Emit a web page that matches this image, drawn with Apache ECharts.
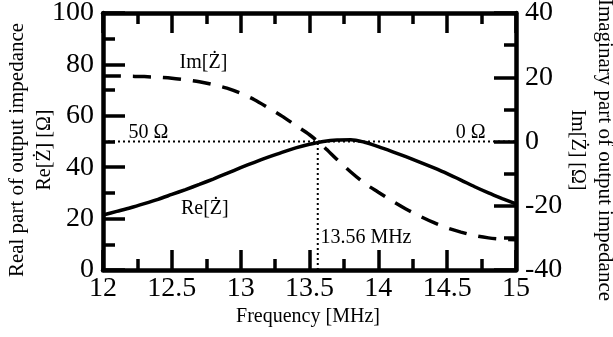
<!DOCTYPE html>
<html><head><meta charset="utf-8">
<script src="https://cdn.jsdelivr.net/npm/echarts@6/dist/echarts.min.js"></script>
<style>html,body{margin:0;padding:0;background:#fff}#c{width:613px;height:337px}</style>
</head><body><div id="c"></div>
<script>
// Data
const freq = [12, 12.1, 12.2, 12.3, 12.4, 12.5, 12.6, 12.7, 12.8, 12.9, 13, 13.1, 13.2, 13.3, 13.4, 13.5,
  13.6, 13.7, 13.8, 13.9, 14, 14.1, 14.2, 14.3, 14.4, 14.5, 14.6, 14.7, 14.8, 14.9, 15];
const reVals = [21.4, 22.8, 24.2, 25.8, 27.5, 29.4, 31.3, 33.3, 35.4, 37.6, 39.8, 41.9, 43.9, 45.8, 47.5, 48.9,
  50.0, 50.6, 50.7, 49.7, 48.0, 46.1, 44.1, 42.0, 39.8, 37.5, 35.0, 32.4, 30.0, 27.8, 25.7];
const imVals = [20.4, 20.4, 20.3, 20.2, 20.0, 19.7, 19.2, 18.6, 17.7, 16.6, 15.0, 13.0, 10.5, 7.9, 5.0, 2.1,
  -1.5, -5.6, -9.5, -13.0, -15.8, -18.5, -21.0, -23.2, -25.2, -26.9, -28.2, -29.3, -30.0, -30.4, -30.6];
const refLevel = 50;      // 50 Ω (left) == 0 Ω (right)
const refFreq = 13.56;    // MHz
const xRange = [12, 15];
const annoX = [12.73, 12.74, 12.33, 14.67, 13.91];
const annoY = [80.5, 23.7, 53.3, 53.3, 12.5];
const annoText = ['Im[Ż]', 'Re[Ż]', '50 Ω', '0 Ω', '13.56 MHz'];

const FONT = '"Liberation Serif","Times New Roman",serif';
const chart = echarts.init(document.getElementById('c'));
const axisLine = {show: true, onZero: false, lineStyle: {color: '#000', width: 4.5}};
const tick = (len) => ({show: true, inside: true, length: len, lineStyle: {color: '#000', width: 3.5}});
const minor = (len) => ({show: true, splitNumber: 2, length: len, lineStyle: {color: '#000', width: 3.5}});

chart.setOption({
  animation: false,
  backgroundColor: '#fff',
  grid: {left: 103, right: 97, top: 13, bottom: 67, outerBoundsMode: 'none'},
  xAxis: [{
    type: 'value', min: xRange[0], max: xRange[1], interval: 0.5, position: 'bottom',
    axisLine, axisTick: tick(20), minorTick: minor(11), splitLine: {show: false}, minorSplitLine: {show: false},
    axisLabel: {color: '#000', fontFamily: FONT, fontSize: 28, margin: 5}
  }, {
    type: 'value', min: xRange[0], max: xRange[1], interval: 0.5, position: 'top',
    axisLine, axisTick: tick(20), minorTick: minor(11), splitLine: {show: false},
    axisLabel: {show: false}
  }],
  yAxis: [{
    type: 'value', min: 0, max: 100, interval: 20, position: 'left',
    axisLine, axisTick: tick(22), minorTick: minor(12), splitLine: {show: false},
    axisLabel: {color: '#000', fontFamily: FONT, fontSize: 28, margin: 9}
  }, {
    type: 'value', min: -40, max: 40, interval: 20, position: 'right',
    axisLine, axisTick: tick(22), minorTick: minor(12), splitLine: {show: false},
    axisLabel: {color: '#000', fontFamily: FONT, fontSize: 28, margin: 9}
  }],
  series: [{
    type: 'line', xAxisIndex: 0, yAxisIndex: 0, silent: true, symbol: 'none',
    data: [[xRange[0], refLevel], [xRange[1], refLevel]],
    lineStyle: {color: '#000', width: 2, type: [2, 3]}, z: 1
  }, {
    type: 'line', xAxisIndex: 0, yAxisIndex: 0, silent: true, symbol: 'none',
    data: [[refFreq, 0], [refFreq, refLevel]],
    lineStyle: {color: '#000', width: 2, type: [2, 3]}, z: 1
  }, {
    type: 'line', xAxisIndex: 0, yAxisIndex: 0, symbol: 'none', smooth: 0.3,
    data: freq.map((f, i) => [f, reVals[i]]),
    lineStyle: {color: '#000', width: 3.5}, z: 3
  }, {
    type: 'line', xAxisIndex: 0, yAxisIndex: 1, symbol: 'none', smooth: 0.3,
    data: freq.map((f, i) => [f, imVals[i]]),
    lineStyle: {color: '#000', width: 3.5, type: [18, 12]}, z: 3
  }]
});

const txt = (x, y, s, size, rot) => ({
  type: 'text', x, y, rotation: rot || 0, z: 10,
  style: {text: s, fill: '#000', font: size + 'px ' + FONT, align: 'center', verticalAlign: 'middle'}
});
const g = annoX.map((x, i) => {
  const p = chart.convertToPixel({xAxisIndex: 0, yAxisIndex: 0}, [x, annoY[i]]);
  return txt(p[0], p[1], annoText[i], 20);
});
g.push(txt(308, 317, 'Frequency [MHz]', 20));
g.push(txt(17, 150, 'Real part of output impedance', 21, Math.PI / 2));
g.push(txt(45, 150, 'Re[Ż] [Ω]', 20, Math.PI / 2));
g.push(txt(605, 150, 'Imaginary part of output impedance', 21, -Math.PI / 2));
g.push(txt(577, 150, 'Im[Ż] [Ω]', 20, -Math.PI / 2));
chart.setOption({graphic: g});
</script></body></html>
